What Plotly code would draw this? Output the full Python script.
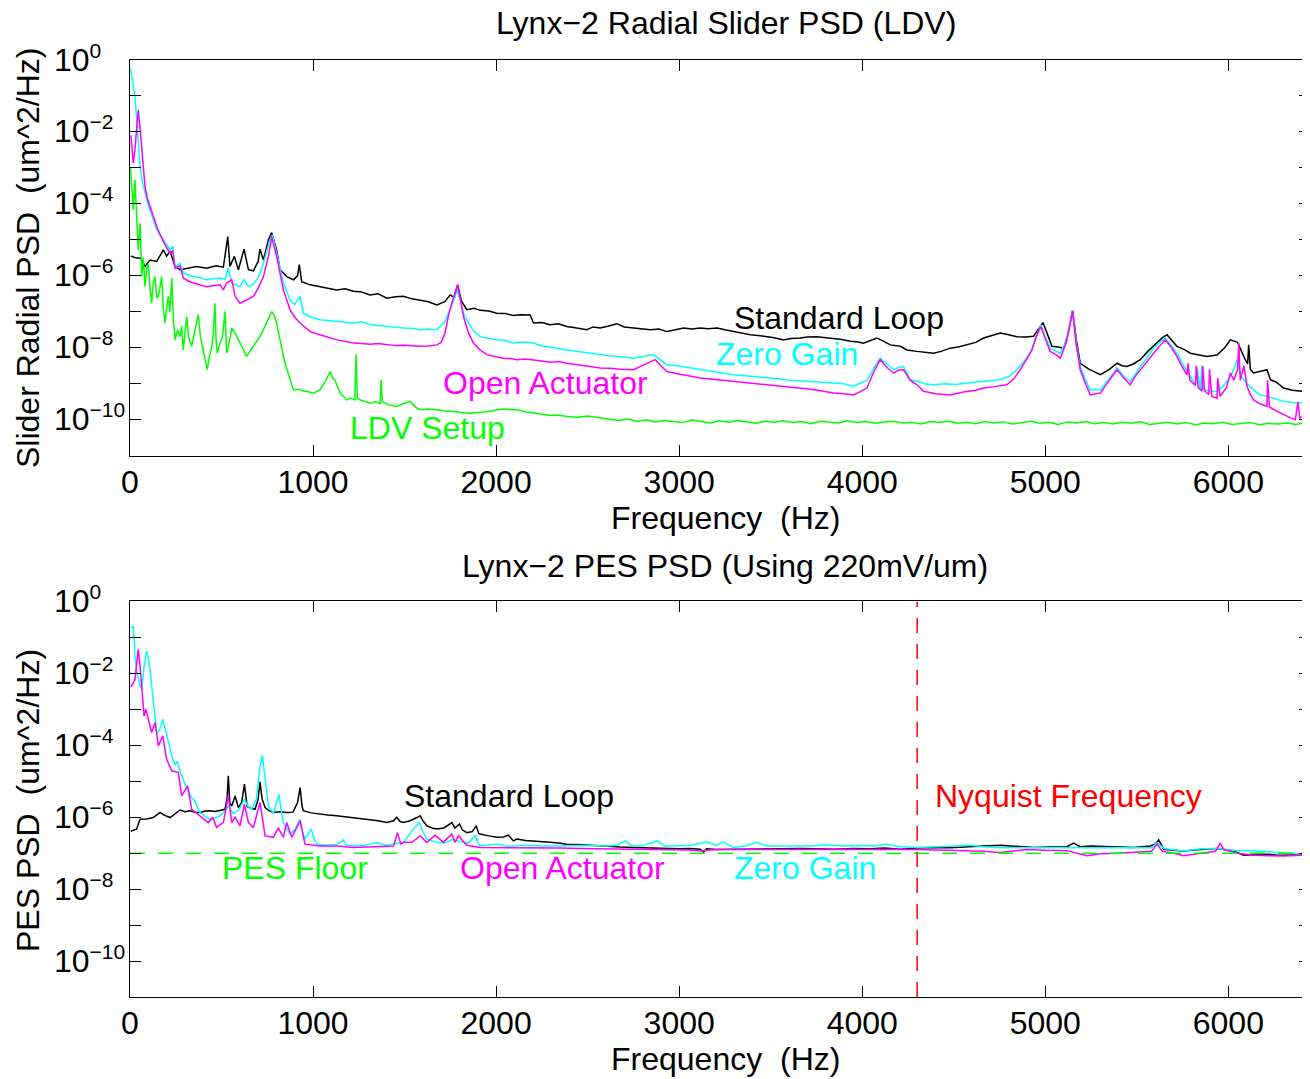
import plotly.graph_objects as go

# ---------------- Top panel: Radial slider PSD (LDV), log10 values ----------------
top_std_f = [5, 30, 58, 82, 109, 146, 182, 200, 219, 246, 273, 310, 364, 419, 470, 510, 534, 546, 570, 592,
             623, 647, 674, 700, 710, 729, 756, 774, 801, 820, 856, 893, 915, 925, 938, 984, 1038, 1080, 1129, 1175,
             1220, 1265, 1311, 1355, 1403, 1450, 1494, 1540, 1585, 1630, 1676, 1720, 1749, 1770, 1790, 1810, 1840, 1880, 1913, 1960,
             2003, 2050, 2094, 2131, 2186, 2204, 2250, 2295, 2340, 2386, 2440, 2495, 2530, 2568, 2610, 2659, 2700, 2750, 2800, 2842,
             2890, 2933, 2980, 3024, 3070, 3115, 3160, 3206, 3250, 3296, 3340, 3388, 3430, 3479, 3520, 3570, 3610, 3661, 3700, 3752,
             3800, 3843, 3890, 3934, 3970, 4007, 4040, 4080, 4110, 4153, 4208, 4244, 4299, 4340, 4390, 4430, 4481, 4530, 4572, 4620,
             4663, 4710, 4754, 4800, 4845, 4890, 4936, 4960, 4987, 5010, 5036, 5070, 5100, 5125, 5149, 5170, 5191, 5240, 5301, 5350,
             5392, 5420, 5446, 5480, 5519, 5560, 5610, 5640, 5665, 5690, 5719, 5760, 5792, 5840, 5883, 5938, 5980, 6011, 6050, 6090,
             6105, 6111, 6120, 6138, 6180, 6211, 6230, 6260, 6302, 6350, 6410]
top_std_v = [-5.45, -5.50, -5.51, -5.74, -5.56, -5.60, -5.28, -5.45, -5.32, -5.74, -5.83, -5.79, -5.74, -5.79, -5.72, -5.76, -4.91, -5.74, -5.46, -5.83,
             -5.26, -5.83, -5.86, -5.60, -5.26, -5.56, -5.00, -4.80, -5.28, -5.83, -6.02, -6.11, -6.00, -5.69, -6.16, -6.25, -6.30, -6.33, -6.39, -6.36,
             -6.43, -6.45, -6.53, -6.50, -6.62, -6.58, -6.57, -6.64, -6.67, -6.72, -6.81, -6.72, -6.53, -6.60, -6.25, -6.70, -6.94, -6.90, -6.96, -6.98,
             -7.04, -7.05, -7.10, -7.08, -7.09, -7.31, -7.30, -7.36, -7.33, -7.41, -7.45, -7.50, -7.42, -7.45, -7.40, -7.33, -7.42, -7.45, -7.47, -7.50,
             -7.48, -7.55, -7.50, -7.45, -7.48, -7.45, -7.47, -7.45, -7.50, -7.55, -7.60, -7.64, -7.66, -7.69, -7.72, -7.78, -7.74, -7.73, -7.70, -7.69,
             -7.72, -7.73, -7.77, -7.82, -7.83, -7.87, -7.80, -7.73, -7.80, -7.92, -7.96, -8.06, -8.10, -8.12, -8.15, -8.10, -8.01, -7.97, -7.92, -7.85,
             -7.73, -7.65, -7.59, -7.64, -7.69, -7.70, -7.68, -7.50, -7.30, -7.60, -7.96, -7.98, -8.01, -7.60, -6.96, -7.80, -8.43, -8.60, -8.75, -8.60,
             -8.43, -8.50, -8.52, -8.45, -8.33, -8.10, -7.87, -7.72, -7.64, -7.80, -7.96, -8.05, -8.15, -8.20, -8.24, -8.20, -8.00, -7.78, -7.85, -8.30,
             -8.45, -7.92, -8.60, -8.70, -8.65, -8.61, -8.89, -8.95, -9.12, -9.18, -9.21]

top_zero_f = [3, 15, 27, 36, 45, 55, 68, 82, 95, 109, 127, 146, 164, 182, 200, 219, 233, 246, 260, 273,
              291, 320, 346, 380, 419, 460, 492, 520, 537, 556, 580, 601, 623, 647, 670, 692, 710, 729, 765, 778,
              801, 838, 874, 900, 929, 947, 990, 1038, 1080, 1129, 1175, 1220, 1265, 1311, 1355, 1403, 1450, 1494, 1540, 1585,
              1630, 1676, 1721, 1767, 1790, 1822, 1849, 1880, 1913, 1960, 2003, 2050, 2094, 2150, 2204, 2250, 2300, 2340, 2386, 2440,
              2500, 2568, 2620, 2680, 2750, 2800, 2860, 2900, 2933, 2990, 3050, 3115, 3170, 3230, 3296, 3360, 3420, 3479, 3540, 3600,
              3661, 3720, 3780, 3843, 3900, 3952, 3990, 4026, 4060, 4098, 4135, 4171, 4200, 4226, 4262, 4299, 4340, 4390, 4450, 4510,
              4572, 4640, 4700, 4754, 4800, 4845, 4880, 4918, 4950, 4976, 5000, 5027, 5060, 5082, 5115, 5149, 5170, 5191, 5220, 5246,
              5275, 5301, 5350, 5392, 5430, 5464, 5490, 5519, 5560, 5592, 5625, 5656, 5690, 5719, 5745, 5774, 5800, 5820, 5830, 5847,
              5856, 5865, 5890, 5938, 5975, 6011, 6030, 6047, 6070, 6102, 6138, 6170, 6211, 6260, 6302, 6350, 6410]
top_zero_v = [-0.25, -0.70, -1.02, -1.60, -2.22, -2.96, -3.40, -3.70, -3.95, -4.17, -4.45, -4.72, -4.85, -5.00, -5.15, -5.28, -5.18, -5.74, -5.70, -5.65,
              -5.93, -5.98, -6.02, -6.05, -6.11, -6.08, -6.06, -6.10, -5.79, -6.20, -6.25, -6.30, -6.11, -6.30, -6.25, -6.11, -5.95, -5.65, -5.00, -4.86,
              -5.37, -6.20, -6.67, -6.80, -6.57, -7.04, -7.15, -7.22, -7.24, -7.27, -7.30, -7.31, -7.28, -7.35, -7.38, -7.41, -7.43, -7.45, -7.46, -7.50,
              -7.48, -7.50, -7.27, -6.67, -6.39, -7.04, -7.31, -7.55, -7.69, -7.74, -7.78, -7.80, -7.87, -7.84, -7.87, -7.95, -7.98, -8.02, -8.06, -8.10,
              -8.15, -8.19, -8.22, -8.25, -8.29, -8.25, -8.19, -8.35, -8.47, -8.50, -8.55, -8.61, -8.65, -8.70, -8.75, -8.78, -8.80, -8.84, -8.86, -8.90,
              -8.93, -8.94, -8.96, -8.98, -9.00, -9.07, -8.98, -8.90, -8.60, -8.29, -8.45, -8.61, -8.55, -8.52, -8.89, -8.93, -9.00, -9.03, -9.00, -9.02,
              -8.98, -8.95, -8.92, -8.89, -8.80, -8.61, -8.40, -8.15, -7.70, -7.36, -7.70, -8.01, -8.10, -8.15, -7.80, -6.96, -7.90, -8.52, -8.90, -9.17,
              -9.15, -9.17, -8.85, -8.56, -8.80, -8.93, -8.75, -8.52, -8.25, -8.00, -7.85, -7.73, -7.95, -8.15, -8.40, -8.66, -8.85, -9.00, -8.55, -9.17,
              -8.50, -9.15, -9.20, -9.21, -9.05, -8.80, -8.60, -8.33, -8.80, -9.00, -9.17, -9.30, -9.35, -9.42, -9.49, -9.52, -9.54]

top_open_f = [5, 9, 18, 27, 36, 45, 55, 64, 73, 82, 95, 109, 127, 146, 164, 182, 200, 219, 233, 246,
              260, 273, 291, 320, 346, 380, 419, 460, 492, 510, 528, 556, 574, 601, 637, 674, 700, 729, 756, 774,
              801, 838, 874, 900, 929, 960, 984, 1038, 1080, 1129, 1175, 1220, 1270, 1311, 1355, 1403, 1450, 1494, 1540, 1585,
              1630, 1676, 1700, 1721, 1740, 1758, 1790, 1805, 1822, 1850, 1876, 1910, 1949, 2000, 2040, 2080, 2113, 2160, 2204, 2250,
              2300, 2340, 2386, 2440, 2500, 2568, 2620, 2680, 2750, 2800, 2840, 2869, 2900, 2933, 2990, 3050, 3115, 3170, 3230, 3296,
              3360, 3420, 3479, 3540, 3600, 3661, 3720, 3780, 3843, 3900, 3952, 3990, 4026, 4060, 4098, 4135, 4171, 4200, 4226, 4262,
              4299, 4335, 4400, 4481, 4560, 4620, 4663, 4720, 4790, 4830, 4863, 4900, 4927, 4950, 4976, 5000, 5027, 5060, 5082, 5115,
              5149, 5170, 5191, 5220, 5246, 5275, 5301, 5350, 5392, 5430, 5464, 5490, 5519, 5560, 5592, 5625, 5656, 5690, 5719, 5745,
              5774, 5779, 5790, 5820, 5825, 5835, 5856, 5860, 5870, 5893, 5897, 5910, 5938, 5942, 5955, 5990, 6011, 6030, 6050, 6057,
              6065, 6085, 6102, 6120, 6138, 6170, 6211, 6214, 6225, 6260, 6302, 6340, 6366, 6380, 6390, 6410]
top_open_v = [-2.10, -2.36, -2.87, -2.50, -1.90, -1.39, -1.90, -2.50, -3.10, -3.52, -3.85, -4.07, -4.38, -4.63, -4.85, -5.05, -5.22, -5.37, -5.30, -5.79,
              -5.75, -5.72, -6.06, -6.15, -6.20, -6.25, -6.30, -6.27, -6.25, -6.39, -6.20, -6.11, -6.57, -6.76, -6.67, -6.57, -6.35, -6.02, -5.46, -4.91,
              -5.46, -6.39, -6.94, -7.15, -7.31, -7.45, -7.55, -7.64, -7.70, -7.78, -7.82, -7.87, -7.88, -7.90, -7.88, -7.92, -7.94, -7.93, -7.95, -7.96,
              -7.95, -7.92, -7.85, -7.59, -7.10, -6.76, -6.25, -6.70, -7.13, -7.60, -7.87, -8.05, -8.19, -8.25, -8.29, -8.30, -8.33, -8.31, -8.33, -8.37,
              -8.40, -8.38, -8.43, -8.47, -8.50, -8.56, -8.57, -8.60, -8.61, -8.50, -8.40, -8.33, -8.50, -8.66, -8.72, -8.78, -8.84, -8.87, -8.90, -8.93,
              -8.96, -9.00, -9.03, -9.06, -9.10, -9.12, -9.15, -9.20, -9.26, -9.28, -9.31, -9.22, -9.12, -8.70, -8.33, -8.55, -8.70, -8.62, -8.61, -8.90,
              -9.03, -9.21, -9.28, -9.31, -9.22, -9.18, -9.12, -9.08, -9.03, -8.85, -8.61, -8.30, -8.06, -7.70, -7.41, -7.75, -8.10, -8.20, -8.29, -7.85,
              -6.99, -7.95, -8.61, -9.00, -9.31, -9.28, -9.26, -8.90, -8.61, -8.85, -9.03, -8.80, -8.61, -8.35, -8.15, -7.95, -7.78, -8.00, -8.24, -8.50,
              -8.75, -8.43, -8.90, -9.05, -8.50, -9.10, -9.21, -8.50, -9.20, -9.30, -8.60, -9.35, -9.40, -8.84, -9.35, -9.10, -8.70, -8.90, -8.60, -7.87,
              -8.90, -8.50, -9.07, -9.30, -9.45, -9.55, -9.63, -8.90, -9.65, -9.75, -9.86, -9.95, -10.00, -9.50, -9.95, -9.91]

top_ldv_f = [3, 9, 18, 27, 36, 45, 55, 64, 73, 82, 91, 100, 110, 118, 127, 137, 146, 155, 164, 173,
             182, 191, 200, 209, 218, 228, 237, 246, 260, 273, 282, 291, 300, 310, 320, 337, 355, 373, 385, 400,
             411, 422, 435, 446, 455, 464, 470, 477, 490, 505, 519, 528, 540, 556, 575, 592, 615, 637, 655, 674,
             692, 710, 729, 747, 760, 774, 788, 801, 810, 820, 833, 847, 870, 893, 920, 947, 975, 1002, 1038, 1065,
             1093, 1108, 1120, 1135, 1148, 1166, 1184, 1205, 1228, 1235, 1242, 1260, 1290, 1311, 1340, 1366, 1372, 1378, 1410, 1457,
             1495, 1530, 1560, 1585, 1630, 1676, 1720, 1767, 1810, 1858, 1900, 1950, 2000, 2040, 2080, 2113, 2160, 2204, 2250, 2300,
             2340, 2386, 2440, 2500, 2568, 2620, 2670, 2720, 2770, 2820, 2870, 2920, 2970, 3020, 3070, 3120, 3170, 3220, 3270, 3320,
             3370, 3420, 3470, 3520, 3570, 3620, 3670, 3720, 3770, 3820, 3870, 3920, 3970, 4020, 4070, 4120, 4170, 4220, 4270, 4320,
             4370, 4420, 4470, 4520, 4570, 4620, 4670, 4720, 4770, 4820, 4870, 4920, 4970, 5020, 5070, 5120, 5170, 5220, 5270, 5320,
             5370, 5420, 5470, 5520, 5570, 5620, 5670, 5720, 5770, 5820, 5870, 5920, 5970, 6020, 6070, 6120, 6170, 6220, 6270, 6320,
             6370, 6410]
top_ldv_v = [-3.00, -3.43, -4.17, -3.33, -4.54, -5.28, -4.54, -6.02, -5.50, -6.30, -5.80, -5.65, -6.40, -6.76, -6.20, -6.02, -6.60, -6.57, -6.30, -6.02,
             -6.90, -7.31, -6.90, -6.57, -7.00, -6.06, -7.20, -7.78, -7.50, -7.69, -7.40, -8.06, -7.60, -7.13, -7.70, -7.96, -7.50, -7.08, -7.70, -8.06,
             -8.30, -8.61, -8.20, -8.00, -7.60, -6.76, -7.80, -8.15, -7.90, -7.70, -6.99, -8.15, -7.90, -7.45, -7.60, -7.78, -8.00, -8.24, -8.10, -7.96,
             -7.80, -7.69, -7.50, -7.31, -7.15, -6.99, -7.10, -7.31, -7.55, -7.78, -8.10, -8.43, -8.80, -9.17, -9.15, -9.20, -9.22, -9.26, -9.17, -8.95,
             -8.66, -8.85, -8.90, -9.10, -9.26, -9.35, -9.45, -9.40, -9.45, -8.19, -9.40, -9.45, -9.50, -9.54, -9.50, -9.55, -8.89, -9.50, -9.58, -9.63,
             -9.55, -9.49, -9.65, -9.72, -9.70, -9.72, -9.76, -9.77, -9.80, -9.82, -9.80, -9.78, -9.73, -9.70, -9.72, -9.72, -9.78, -9.82, -9.85, -9.88,
             -9.87, -9.91, -9.93, -9.90, -9.95, -9.97, -10.02, -9.98, -10.05, -10.00, -10.06, -10.02, -10.04, -10.08, -10.01, -10.05, -10.09, -10.03, -10.07, -10.02,
             -10.06, -10.10, -10.04, -10.07, -10.03, -10.08, -10.05, -10.11, -10.04, -10.07, -10.09, -10.03, -10.08, -10.05, -10.10, -10.06, -10.04, -10.09, -10.07, -10.12,
             -10.05, -10.08, -10.04, -10.10, -10.07, -10.11, -10.05, -10.09, -10.06, -10.12, -10.08, -10.04, -10.10, -10.07, -10.13, -10.06, -10.09, -10.05, -10.11, -10.08,
             -10.12, -10.07, -10.10, -10.06, -10.13, -10.09, -10.07, -10.12, -10.08, -10.14, -10.09, -10.11, -10.07, -10.13, -10.10, -10.08, -10.14, -10.10, -10.12, -10.09,
             -10.13, -10.09]

# ---------------- Bottom panel: PES PSD, log10 values ----------------
bot_std_f = [5, 9, 36, 55, 90, 127, 164, 190, 219, 245, 273, 300, 328, 355, 383, 410, 437, 465, 492, 519,
             530, 537, 545, 556, 574, 592, 610, 625, 640, 660, 683, 700, 710, 722, 738, 760, 783, 820, 856, 890,
             915, 929, 940, 947, 990, 1038, 1080, 1129, 1175, 1220, 1265, 1311, 1355, 1403, 1440, 1457, 1475, 1494, 1530, 1567,
             1585, 1600, 1621, 1650, 1676, 1715, 1758, 1775, 1800, 1815, 1840, 1870, 1891, 1905, 1913, 1960, 2003, 2040, 2067, 2094,
             2113, 2160, 2204, 2250, 2295, 2340, 2386, 2440, 2500, 2568, 2620, 2680, 2750, 2800, 2870, 2933, 3000, 3060, 3115, 3133,
             3150, 3200, 3296, 3380, 3479, 3560, 3660, 3750, 3843, 3950, 4050, 4120, 4208, 4300, 4390, 4480, 4560, 4660, 4754, 4850,
             4936, 5030, 5118, 5155, 5190, 5250, 5301, 5400, 5483, 5574, 5600, 5619, 5635, 5647, 5700, 5756, 5850, 5938, 5980, 6029,
             6084, 6150, 6211, 6260, 6302, 6360, 6412]
bot_std_v = [-6.40, -6.38, -6.33, -6.06, -6.05, -6.01, -5.87, -5.95, -6.01, -5.90, -5.80, -5.85, -5.82, -5.86, -5.87, -5.83, -5.82, -5.84, -5.80, -5.78,
             -5.50, -4.85, -5.60, -5.69, -5.41, -5.73, -5.60, -5.08, -5.70, -5.75, -5.78, -5.50, -5.02, -5.50, -5.73, -5.82, -5.87, -5.85, -5.87, -5.86,
             -5.60, -5.18, -5.70, -5.82, -5.88, -5.92, -5.94, -5.96, -5.99, -6.01, -6.04, -6.06, -6.10, -6.15, -6.10, -6.00, -6.12, -6.15, -6.10, -6.01,
             -5.96, -6.10, -6.24, -6.30, -6.33, -6.30, -6.15, -6.30, -6.19, -6.35, -6.43, -6.40, -6.24, -6.45, -6.47, -6.52, -6.56, -6.55, -6.50, -6.66,
             -6.61, -6.65, -6.66, -6.68, -6.70, -6.72, -6.75, -6.76, -6.78, -6.80, -6.81, -6.83, -6.84, -6.85, -6.86, -6.87, -6.88, -6.87, -6.89, -6.97,
             -6.88, -6.90, -6.89, -6.88, -6.87, -6.88, -6.87, -6.88, -6.89, -6.87, -6.88, -6.86, -6.89, -6.86, -6.84, -6.85, -6.82, -6.80, -6.78, -6.82,
             -6.84, -6.83, -6.82, -6.72, -6.82, -6.80, -6.81, -6.83, -6.84, -6.80, -6.75, -6.63, -6.80, -6.89, -6.92, -6.94, -6.90, -6.87, -6.90, -6.94,
             -7.06, -7.04, -7.03, -7.05, -7.06, -7.05, -7.06]

bot_zero_f = [3, 9, 18, 27, 36, 45, 55, 64, 77, 91, 100, 109, 118, 127, 137, 146, 160, 170, 179, 190,
              200, 214, 228, 245, 255, 264, 275, 291, 305, 319, 340, 355, 370, 383, 410, 437, 465, 492, 515, 537,
              550, 565, 595, 625, 645, 665, 690, 710, 723, 735, 756, 783, 800, 814, 825, 838, 874, 900, 929, 945,
              956, 975, 989, 1005, 1020, 1070, 1129, 1150, 1166, 1180, 1220, 1280, 1348, 1403, 1450, 1494, 1548, 1581, 1600, 1621,
              1676, 1720, 1767, 1800, 1850, 1885, 1900, 1913, 2003, 2060, 2094, 2160, 2250, 2340, 2430, 2520, 2600, 2660, 2705, 2740,
              2800, 2878, 2920, 3000, 3060, 3151, 3200, 3242, 3296, 3360, 3424, 3480, 3560, 3650, 3730, 3800, 3900, 3990, 4060, 4135,
              4208, 4299, 4390, 4480, 4590, 4660, 4754, 4850, 4936, 5030, 5118, 5200, 5301, 5400, 5500, 5580, 5610, 5650, 5756, 5850,
              5938, 5993, 6050, 6120, 6211, 6300, 6412]
bot_zero_v = [-0.73, -0.73, -0.69, -1.52, -1.90, -2.17, -2.35, -2.44, -1.80, -1.38, -1.55, -1.89, -2.30, -2.72, -3.20, -3.65, -3.60, -3.40, -3.28, -3.50,
              -3.74, -4.00, -4.30, -4.55, -4.45, -4.53, -4.75, -4.94, -5.10, -5.31, -5.48, -5.55, -5.75, -5.87, -5.98, -6.06, -6.02, -5.96, -5.85, -5.69,
              -5.80, -5.90, -5.80, -5.50, -5.70, -5.78, -5.50, -4.60, -4.28, -4.80, -5.69, -5.90, -5.60, -5.36, -5.80, -6.15, -6.47, -6.35, -6.06, -6.45,
              -6.61, -6.45, -6.33, -6.60, -6.75, -6.78, -6.76, -6.70, -6.63, -6.78, -6.80, -6.78, -6.71, -6.78, -6.74, -6.70, -6.33, -6.15, -6.40, -6.61,
              -6.70, -6.72, -6.61, -6.68, -6.72, -6.50, -6.70, -6.80, -6.75, -6.80, -6.80, -6.78, -6.80, -6.79, -6.80, -6.79, -6.80, -6.78, -6.66, -6.80,
              -6.79, -6.66, -6.80, -6.80, -6.79, -6.69, -6.78, -6.69, -6.84, -6.80, -6.70, -6.80, -6.80, -6.78, -6.80, -6.77, -6.80, -6.79, -6.80, -6.75,
              -6.82, -6.84, -6.83, -6.81, -6.78, -6.82, -6.85, -6.85, -6.86, -6.85, -6.87, -6.86, -6.86, -6.87, -6.87, -6.85, -6.72, -6.87, -6.94, -6.88,
              -6.87, -6.90, -6.93, -6.93, -6.96, -7.00, -7.03]

bot_open_f = [3, 9, 27, 36, 45, 55, 64, 77, 87, 100, 118, 137, 155, 179, 200, 228, 264, 282, 315, 337,
              383, 428, 452, 473, 495, 510, 537, 556, 574, 601, 625, 647, 674, 710, 738, 783, 810, 838, 856, 884,
              929, 956, 1038, 1129, 1220, 1300, 1403, 1440, 1461, 1480, 1494, 1540, 1585, 1621, 1667, 1712, 1758, 1775, 1794, 1840,
              1913, 2003, 2094, 2160, 2250, 2350, 2450, 2550, 2650, 2750, 2850, 2950, 3050, 3115, 3200, 3300, 3400, 3500, 3600, 3700,
              3800, 3900, 4000, 4100, 4208, 4300, 4390, 4480, 4560, 4660, 4754, 4820, 4900, 5000, 5118, 5228, 5300, 5400, 5500, 5580,
              5610, 5640, 5700, 5756, 5850, 5930, 5956, 5975, 6050, 6130, 6211, 6302, 6412]
bot_open_v = [-2.35, -2.35, -2.17, -1.70, -1.33, -1.80, -2.35, -3.19, -3.00, -3.28, -3.65, -3.37, -4.02, -3.74, -4.39, -4.71, -4.76, -5.41, -5.13, -5.78,
              -5.96, -6.15, -6.00, -6.29, -6.20, -6.15, -5.41, -6.15, -6.00, -6.24, -5.64, -6.15, -6.29, -5.59, -6.52, -6.56, -6.30, -6.56, -6.15, -6.56,
              -6.10, -6.75, -6.80, -6.80, -6.84, -6.82, -6.80, -6.80, -6.43, -6.75, -6.70, -6.70, -6.52, -6.70, -6.50, -6.70, -6.47, -6.70, -6.52, -6.78,
              -6.84, -6.84, -6.84, -6.86, -6.85, -6.86, -6.87, -6.88, -6.88, -6.89, -6.89, -6.90, -6.91, -6.94, -6.90, -6.90, -6.89, -6.90, -6.90, -6.89,
              -6.90, -6.89, -6.90, -6.89, -6.89, -6.90, -6.91, -6.92, -6.93, -6.95, -6.98, -6.94, -6.90, -6.92, -6.93, -7.07, -7.02, -7.00, -6.98, -6.95,
              -6.75, -6.95, -7.00, -7.07, -7.00, -6.95, -6.72, -6.90, -7.00, -7.05, -7.07, -7.08, -7.06]

pes_floor_f = [0, 6410]
pes_floor_v = [-7.0, -7.0]
nyquist_f = [4300, 4300]
nyquist_v = [-11.0, 0.0]

x_ticks = [0, 1000, 2000, 3000, 4000, 5000, 6000]
y_tick_exps = list(range(0, -12, -1))
y_label_exps = [0, -2, -4, -6, -8, -10]

FONT = "Liberation Sans, Arial, Helvetica, sans-serif"
FS = 32
BLACK, CYAN, MAGENTA, GREEN, RED = "#000000", "#00FFFF", "#FF00FF", "#00FF00", "#FF0000"

fig = go.Figure()


def add(f, v, color, panel, dash="solid", width=1.5):
    fig.add_trace(go.Scatter(
        x=f, y=[10 ** val for val in v], mode="lines",
        line=dict(color=color, width=width, dash=dash),
        xaxis="x" if panel == 1 else "x2", yaxis="y" if panel == 1 else "y2",
        showlegend=False, hoverinfo="skip"))


add(top_std_f, top_std_v, BLACK, 1)
add(top_zero_f, top_zero_v, CYAN, 1)
add(top_open_f, top_open_v, MAGENTA, 1)
add(top_ldv_f, top_ldv_v, GREEN, 1)

add(bot_std_f, bot_std_v, BLACK, 2)
add(bot_zero_f, bot_zero_v, CYAN, 2)
add(bot_open_f, bot_open_v, MAGENTA, 2)
add(pes_floor_f, pes_floor_v, GREEN, 2, dash="15px,13px")
add(nyquist_f, nyquist_v, RED, 2, dash="15px,11px")

# page body has an 8px margin: figure origin sits at (8, 8) in the screenshot
OFF = 8
W, H = 1310 - OFF, 1079 - OFF
ML, MR, MT, MB = 130 - OFF, 0, 60 - OFF, 82
PW, PH = W - ML - MR, H - MT - MB


def px(xp):  # screenshot pixel -> paper
    return (xp - 130) / PW


def py(yp):
    return 1 - (yp - 60) / PH


xcommon = dict(range=[0, 6446], tickvals=x_ticks, ticks="inside", ticklen=11, tickwidth=1,
               tickcolor="black", showline=True, linecolor="black", linewidth=1, mirror="ticks",
               showgrid=False, zeroline=False, tickfont=dict(family=FONT, size=FS, color="black"),
               ticklabelstandoff=-2)
ycommon = dict(type="log", range=[-11, 0], tickvals=[10 ** e for e in y_tick_exps],
               showticklabels=False,
               ticks="inside", ticklen=11, tickwidth=1, tickcolor="black", showline=True,
               linecolor="black", linewidth=1, mirror="ticks", showgrid=False, zeroline=False)

fig.update_layout(
    width=W, height=H, margin=dict(l=ML, r=MR, t=MT, b=MB, pad=0),
    paper_bgcolor="white", plot_bgcolor="white",
    xaxis=dict(domain=[0, 1], anchor="y", **xcommon),
    yaxis=dict(domain=[1 - 395.7 / PH, 1], anchor="x", **ycommon),
    xaxis2=dict(domain=[0, 1], anchor="y2", **xcommon),
    yaxis2=dict(domain=[0, 395.6 / PH], anchor="x2", **ycommon),
    font=dict(family=FONT, size=FS, color="black"),
)

ann = []


def note(text, x, y, color="black", xref="paper", yref="paper", angle=0, xanchor="center", yshift=0):
    ann.append(dict(text=text, x=x, y=y, xref=xref, yref=yref, showarrow=False,
                    xanchor=xanchor, yanchor="middle", textangle=angle, yshift=yshift,
                    font=dict(family=FONT, size=FS, color=color)))


# y tick labels (left aligned, like the original)
for yr in ("y", "y2"):
    for e in y_label_exps:
        note("10<sup><span style=\"font-size:21px\">%s</span></sup>" % str(e).replace("-", "\u2212"),
             px(52), e, xref="paper", yref=yr, xanchor="left", yshift=2)

# titles and axis labels
note("Lynx\u22122 Radial Slider PSD (LDV)", px(726), py(23))
note("Lynx\u22122 PES PSD (Using 220mV/um)", px(725), py(566))
note("Frequency\u00a0 (Hz)", px(725), py(518))
note("Frequency\u00a0 (Hz)", px(725), py(1059))
note("Slider Radial PSD\u00a0 (um^2/Hz)", px(28), py(258), angle=-90)
note("PES PSD\u00a0 (um^2/Hz)", px(28), py(801), angle=-90)

# in-plot labels (data coordinates; y given as log10)
note("Standard Loop", 3874, -7.17, BLACK, "x", "y")
note("Zero Gain", 3590, -8.17, CYAN, "x", "y")
note("Open Actuator", 2268, -8.97, MAGENTA, "x", "y")
note("LDV Setup", 1623, -10.22, GREEN, "x", "y")

note("Standard Loop", 2071, -5.42, BLACK, "x2", "y2")
note("Nyquist Frequency", 5126, -5.42, RED, "x2", "y2")
note("PES Floor", 902, -7.42, GREEN, "x2", "y2")
note("Open Actuator", 2361, -7.42, MAGENTA, "x2", "y2")
note("Zero Gain", 3689, -7.42, CYAN, "x2", "y2")

fig.update_layout(annotations=ann)

fig.write_html("out.html")
